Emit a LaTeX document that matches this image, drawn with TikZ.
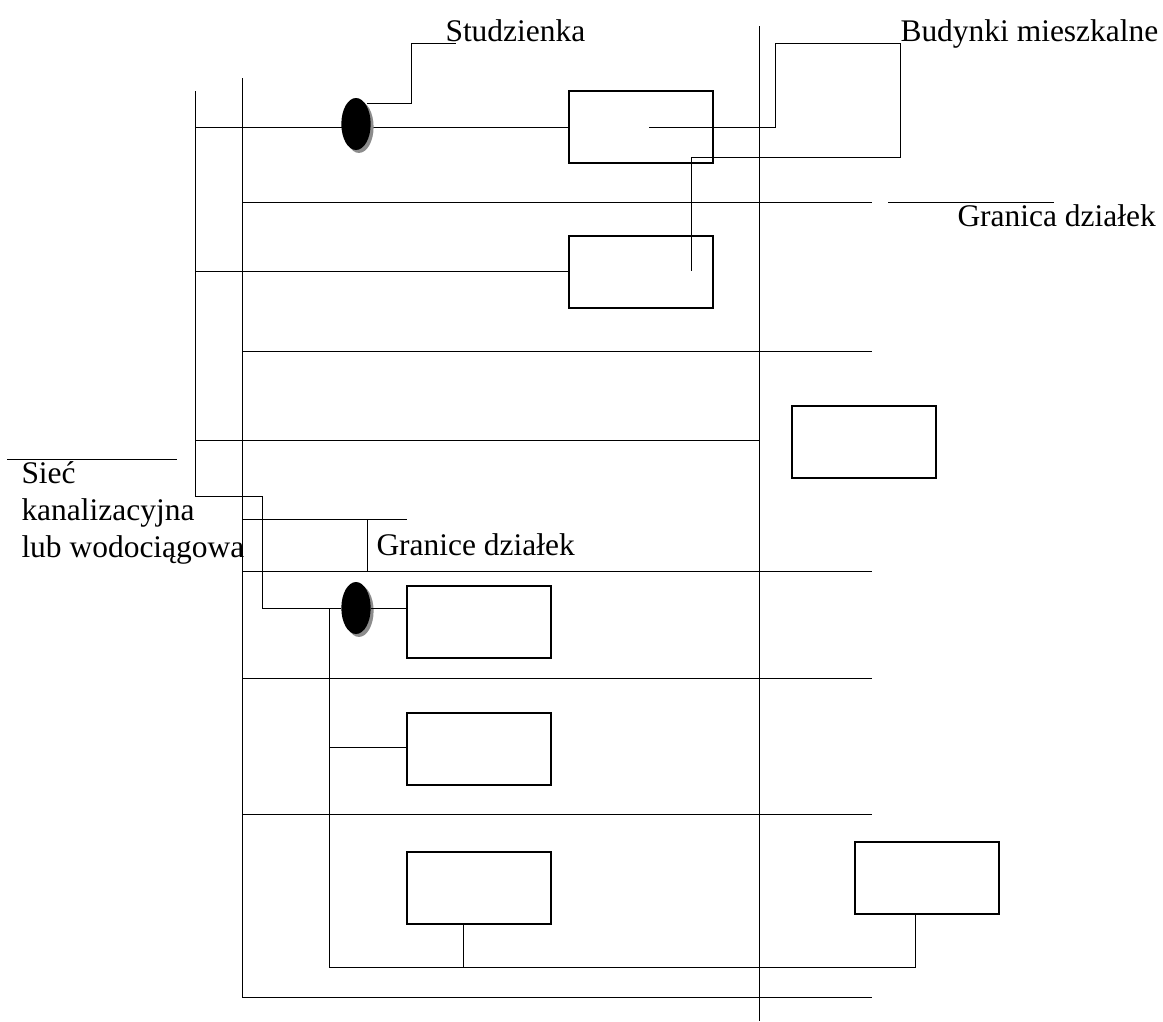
\documentclass[tikz,border=0pt]{standalone}
\usepackage{fontspec}
\setmainfont{Liberation Serif}
\usetikzlibrary{shadows,shapes.geometric}

\begin{document}
\begin{tikzpicture}[
    x=0.75pt, y=-0.75pt,
    line width=0.75pt,
    budynek/.style={draw, line width=1.5pt, rectangle, minimum width=108pt, minimum height=54pt, inner sep=0pt},
    studzienka/.style={draw=none, fill=black, ellipse, minimum width=22pt, minimum height=39pt, inner sep=0pt,
        drop shadow={shadow xshift=2.2pt, shadow yshift=-2.2pt, fill=black!45, opacity=1}},
    opis/.style={anchor=base west, inner sep=0pt, font=\fontsize{23.6}{27.75}\selectfont, align=left}
  ]
\useasboundingbox (0,0) rectangle (1163,1021);

% Main vertical lines
\coordinate (a1) at (242,78);
\coordinate (a2) at (242,997);
\coordinate (b1) at (759,26);
\coordinate (b2) at (759,1021);
\coordinate (c1) at (195,91);
\coordinate (c2) at (195,496);
\draw (a1) -- (a2);
\draw (b1) -- (b2);
\draw (c1) -- (c2);

% Plot boundaries
\foreach \name/\y in {d1/202, d2/351, d3/571, d4/678, d5/814, d6/997} {
    \coordinate (\name a) at (242,\y);
    \coordinate (\name b) at (872,\y);
    \draw (\name a) -- (\name b);
}
\coordinate (d7a) at (195,440);
\coordinate (d7b) at (759,440);
\draw (d7a) -- (d7b);
\coordinate (d8a) at (888,202);
\coordinate (d8b) at (1054,202);
\draw (d8a) -- (d8b);

% Houses
\node [budynek] (bud1) at (641,127) {};
\node [budynek] (bud2) at (641,272) {};
\node [budynek] (bud3) at (864,442) {};
\node [budynek] (bud4) at (479,622) {};
\node [budynek] (bud5) at (479,749) {};
\node [budynek] (bud6) at (479,888) {};
\node [budynek] (bud7) at (927,878) {};

% Wells
\coordinate (w1) at (195,127);
\coordinate (w2) at (195,271);
\draw (w1) -- (w1 -| bud1.west);
\draw (w2) -- (w2 -| bud2.west);
\node [studzienka] (stu1) at (356,124) {};
\node [studzienka] (stu2) at (356,608) {};

% Connections at the bottom
\coordinate (e1) at (262,496);
\coordinate (e2) at (262,608);
\coordinate (e3) at (329,608);
\coordinate (e4) at (329,967);
\coordinate (e6) at (463,967);
\coordinate (e7) at (915,967);
\draw (c2) -- (e1) -- (e2) -- (stu2.west);
\draw (stu2.east) -- (stu2 -| bud4.west);
\draw (e3) -- (e4) -- (e7) -- (e7 |- bud7.south);
\coordinate (e5) at (329,747);
\draw (e5) -- (e5 -| bud5.west);
\draw (e6) -- (e6 |- bud6.south);

% Labels
\node [opis] (t1) at (445,41) {Studzienka};
\node [opis] (t2) at (900,41) {Budynki mieszkalne};
\node [opis] (t3) at (957,226) {Granica działek};
\node [opis] (t4) at (376,555) {Granice działek};
\node [opis, anchor=north west] (t5) at (21,461.5) {Sieć\\kanalizacyjna\\lub wodociągowa};

% Leaders
\coordinate (l1) at (367,103);
\coordinate (l2) at (411,103);
\coordinate (l3) at (411,43);
\coordinate (l4) at (456,43);
\draw (l1) -- (l2) -- (l3) -- (l4);
\coordinate (m1) at (649,127);
\coordinate (m2) at (775,127);
\coordinate (m3) at (775,43);
\coordinate (m4) at (900,43);
\coordinate (m5) at (900,157);
\coordinate (m6) at (691,157);
\coordinate (m7) at (691,271);
\draw (m1) -- (m2) -- (m3) -- (m4) -- (m5) -- (m6) -- (m7);
\coordinate (n1) at (7,459);
\coordinate (n2) at (177,459);
\draw (n1) -- (n2);
\coordinate (o1) at (242,519);
\coordinate (o2) at (407,519);
\coordinate (o3) at (367,519);
\coordinate (o4) at (367,571);
\draw (o1) -- (o2);
\draw (o3) -- (o4);

\end{tikzpicture}
\end{document}
